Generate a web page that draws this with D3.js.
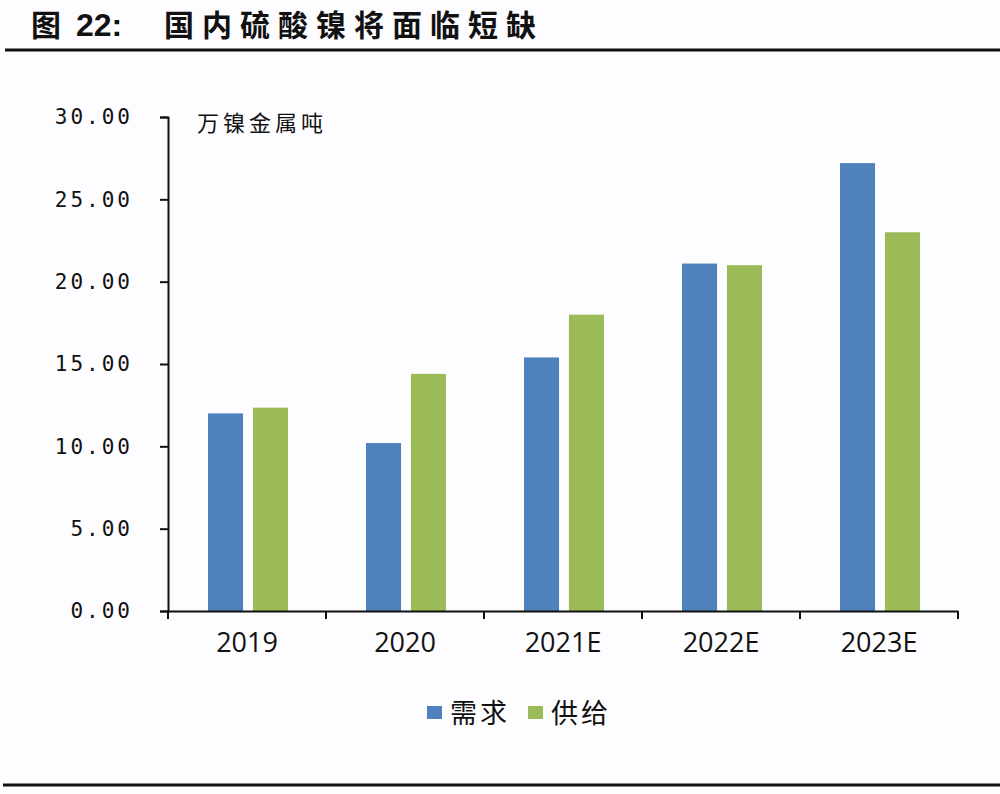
<!DOCTYPE html>
<html><head><meta charset="utf-8">
<script src="https://cdn.jsdelivr.net/npm/d3@7"></script>
<style>body{margin:0;background:#fdfcfe;}svg{display:block;}</style>
</head><body>
<script>
const categories = ["2019","2020","2021E","2022E","2023E"];
const seriesNames = ["需求","供给"];
const demand = [12.0, 10.2, 15.4, 21.1, 27.2];
const supply = [12.35, 14.4, 18.0, 21.0, 23.0];
const yTicks = [0,5,10,15,20,25,30];
const colors = ["#4F81BD","#9BBB59"];

const W=1000,H=794;
const svg=d3.select("body").append("svg").attr("width",W).attr("height",H);
svg.append("rect").attr("width",W).attr("height",H).attr("fill","#fdfcfe");

// title
svg.append("text").attr("x",31).attr("y",36)
  .attr("font-family","'Noto Sans CJK SC'").attr("font-weight","bold").attr("font-size",30)
  .attr("fill","#111").text("图");
svg.append("text").attr("x",76).attr("y",36)
  .attr("font-family","'Liberation Sans'").attr("font-weight","bold").attr("font-size",32)
  .attr("fill","#111").text("22:");
svg.append("text").attr("x",164).attr("y",36)
  .attr("font-family","'Noto Sans CJK SC'").attr("font-weight","bold").attr("font-size",30)
  .attr("letter-spacing","8px").attr("fill","#111").text("国内硫酸镍将面临短缺");
svg.append("line").attr("x1",5).attr("x2",W).attr("y1",50).attr("y2",50).attr("stroke","#111").attr("stroke-width",3);
svg.append("line").attr("x1",3).attr("x2",W).attr("y1",785).attr("y2",785).attr("stroke","#111").attr("stroke-width",3);

const x0=d3.scaleBand().domain(categories).range([168,958]).paddingInner(0).paddingOuter(0);
const y=d3.scaleLinear().domain([0,30]).range([611,117]);
const x1=d3.scaleBand().domain(seriesNames).range([40,x0.bandwidth()-38]).paddingInner(0.22);

const data=categories.map((c,i)=>({c,vals:[demand[i],supply[i]]}));
const g=svg.append("g");
g.selectAll("g.cat").data(data).join("g").attr("class","cat")
  .attr("transform",d=>`translate(${x0(d.c)},0)`)
  .selectAll("rect").data(d=>d.vals.map((v,j)=>({v,j}))).join("rect")
  .attr("x",d=>x1(seriesNames[d.j])).attr("width",x1.bandwidth())
  .attr("y",d=>y(d.v)).attr("height",d=>y(0)-y(d.v)).attr("fill",d=>colors[d.j]);

// y axis
const ya=svg.append("g").attr("transform","translate(168,0)")
  .call(d3.axisLeft(y).tickValues(yTicks).tickFormat(d3.format(".2f")).tickSize(8).tickPadding(27));
ya.select(".domain").attr("stroke","#111").attr("stroke-width",2);
ya.selectAll(".tick line").attr("stroke","#111").attr("stroke-width",2);
ya.selectAll("text").attr("font-family","'DejaVu Sans Mono'").attr("font-size",21)
  .attr("letter-spacing","3px").attr("fill","#111");

// x axis
const xa=svg.append("g").attr("transform","translate(0,611)")
  .call(d3.axisBottom(x0).tickSize(0).tickPadding(22));
xa.select(".domain").attr("stroke","#111").attr("stroke-width",2);
xa.selectAll("text").attr("font-family","'Open Sans'").attr("font-size",27).attr("fill","#111");
svg.append("g").selectAll("line").data(categories.concat(["end"])).join("line")
  .attr("x1",(d,i)=>i<categories.length?x0(d):x0.range()[1])
  .attr("x2",(d,i)=>i<categories.length?x0(d):x0.range()[1])
  .attr("y1",611).attr("y2",619).attr("stroke","#111").attr("stroke-width",2);

// unit
svg.append("text").attr("x",197).attr("y",131).attr("font-family","'Noto Sans CJK SC'")
  .attr("font-size",22).attr("letter-spacing","4px").attr("fill","#111").text("万镍金属吨");

// legend
const leg=svg.append("g");
const legX=[427,528];
seriesNames.forEach((n,i)=>{
  leg.append("rect").attr("x",legX[i]).attr("y",706).attr("width",15).attr("height",13).attr("fill",colors[i]);
  leg.append("text").attr("x",legX[i]+23).attr("y",723).attr("font-family","'Noto Sans CJK SC'")
    .attr("font-size",27).attr("letter-spacing","3px").attr("fill","#111").text(n);
});
</script>
</body></html>
